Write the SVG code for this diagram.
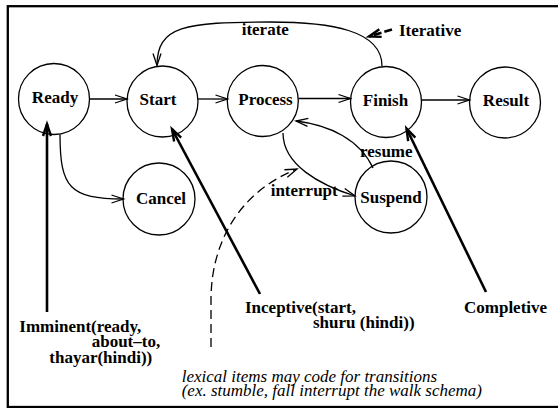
<svg xmlns="http://www.w3.org/2000/svg" width="558" height="408" viewBox="0 0 558 408">
<style>
.n{fill:none;stroke:#000;stroke-width:1.3}
.t{font-family:'Liberation Serif',Tinos,'Times New Roman',Times,serif;font-weight:bold;font-size:17px;fill:#000}
.c{text-anchor:middle}
.i{font-family:'Liberation Serif',Tinos,'Times New Roman',Times,serif;font-style:italic;font-size:17px;fill:#000}
.e{fill:none;stroke:#000;stroke-width:1.3}
.k{fill:none;stroke:#000;stroke-width:2.6}
</style>
<defs>
<marker id="a" markerUnits="userSpaceOnUse" markerWidth="14" markerHeight="10" refX="12" refY="4" orient="auto" overflow="visible">
<path d="M0,0 L12,4 L0,8" fill="none" stroke="#000" stroke-width="1.3"/>
</marker>
<marker id="b" markerUnits="userSpaceOnUse" markerWidth="14" markerHeight="10" refX="12" refY="4" orient="auto" overflow="visible">
<path d="M0,0 L12,4 L0,8" fill="none" stroke="#000" stroke-width="2.4"/>
</marker>
</defs>
<rect x="7.8" y="6.2" width="560" height="400.8" fill="#fff" stroke="#000" stroke-width="2.3"/>
<g id="connectors">
<path class="e" d="M90,99 L127,99" marker-end="url(#a)"/>
<path class="e" d="M198,99 L227.5,99" marker-end="url(#a)"/>
<path class="e" d="M298.5,98.5 L350.5,98.5" marker-end="url(#a)"/>
<path class="e" d="M422,100 L469.5,100" marker-end="url(#a)"/>
<path class="e" d="M60,134.5 C60,188 70,199 123.5,199" marker-end="url(#a)"/>
<path class="e" d="M382,66 C382,30 330,22 270,22 C185,22 157,26 157,65.5" marker-end="url(#a)"/>
<path class="e" d="M283,133 C283,165 320,185 355,196" marker-end="url(#a)"/>
<path class="e" d="M373,168 C360,140 330,125 296,121" marker-end="url(#a)"/>
<path class="e" d="M211,347 L211,300 C211,245 237,193 297,169" stroke-dasharray="9 5" marker-end="url(#a)"/>
<path class="k" d="M392,29.5 L369,36.5" stroke-dasharray="8 3" marker-end="url(#b)"/>
<path class="k" d="M47,312 L47,124" marker-end="url(#b)"/>
<path class="k" d="M260,294 L172,129" marker-end="url(#b)"/>
<path class="k" d="M486,292 L406.5,128.5" marker-end="url(#b)"/>
</g>
<g id="ready"><circle class="n" cx="54" cy="99" r="35.5"/><text class="t c" x="55" y="103">Ready</text></g>
<g id="start"><circle class="n" cx="162.5" cy="101.5" r="35.5"/><text class="t c" x="158" y="104.5">Start</text></g>
<g id="process"><circle class="n" cx="262.8" cy="101" r="35.5"/><text class="t c" x="265.5" y="105">Process</text></g>
<g id="finish"><circle class="n" cx="386" cy="102" r="35.5"/><text class="t c" x="385.5" y="106">Finish</text></g>
<g id="result"><circle class="n" cx="505" cy="102.5" r="35.5"/><text class="t c" x="506" y="106">Result</text></g>
<g id="cancel"><circle class="n" cx="159" cy="199" r="36"/><text class="t c" x="161" y="204">Cancel</text></g>
<g id="suspend"><circle class="n" cx="391" cy="197" r="36"/><text class="t c" x="391" y="203">Suspend</text></g>
<g id="labels">
<text class="t" x="241.7" y="35">iterate</text>
<text class="t" x="399" y="36">Iterative</text>
<text class="t" x="360" y="156.7">resume</text>
<text class="t" x="270.7" y="196">interrupt</text>
<text class="t" x="19.3" y="331.5">Imminent(ready,</text>
<text class="t" x="91.7" y="347">about–to,</text>
<text class="t" x="49.3" y="363">thayar(hindi))</text>
<text class="t" x="245" y="313.3">Inceptive(start,</text>
<text class="t" x="313" y="328.3">shuru (hindi))</text>
<text class="t" x="464" y="313.3">Completive</text>
<text class="i" x="181.7" y="382">lexical items may code for transitions</text>
<text class="i" x="181.7" y="396">(ex. stumble, fall interrupt the walk schema)</text>
</g>
</svg>
